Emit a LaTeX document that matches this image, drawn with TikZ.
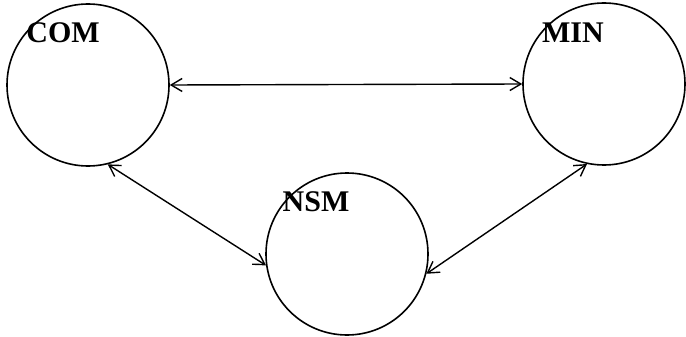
\documentclass[tikz,border=0pt]{standalone}
\usepackage{fontspec}
\setmainfont{Liberation Serif}
\usetikzlibrary{arrows.meta}
\begin{document}
\begin{tikzpicture}[x=1pt,y=-1pt,
  circ/.style={circle,draw,line width=1.6pt,minimum size=162pt,inner sep=0pt},
  lab/.style={font=\fontsize{30}{30}\selectfont\bfseries,inner sep=0pt},
  link/.style={line width=1.4pt,{Straight Barb[length=11pt,width=13pt]}-{Straight Barb[length=11pt,width=13pt]}}]
\useasboundingbox (0,0) rectangle (686,337);
\node[circ] (com) at (88,85) {};
\node[circ] (min) at (604,84) {};
\node[circ] (nsm) at (347,254) {};
\node[lab] (comlab) at (63,33) {COM};
\node[lab] (minlab) at (573,33) {MIN};
\node[lab] (nsmlab) at (316,202) {NSM};
\draw[link] (com.east) -- (min.west);
\draw[link] (com.-76) -- (nsm.188);
\draw[link] (min.258) -- (nsm.-14);
\end{tikzpicture}
\end{document}
